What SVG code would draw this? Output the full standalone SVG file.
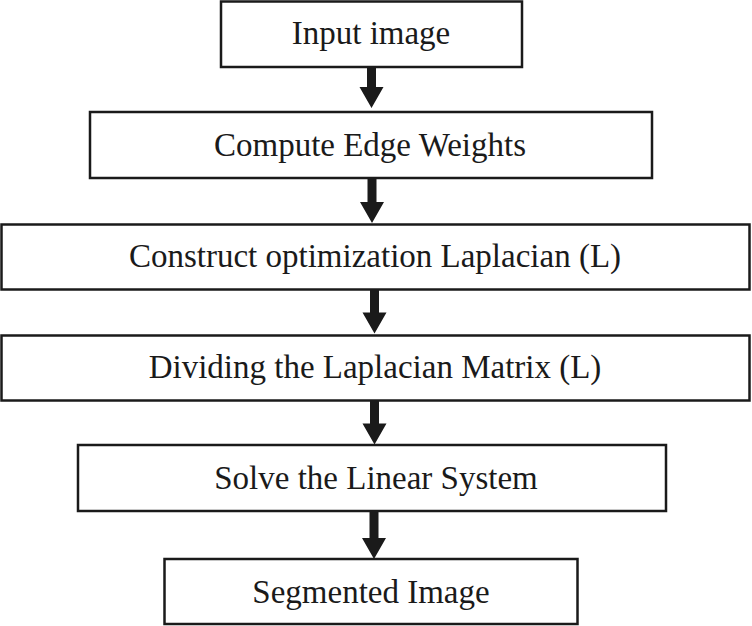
<svg xmlns="http://www.w3.org/2000/svg" width="752" height="626" viewBox="0 0 752 626">
<style>
.b{fill:#fff;stroke:#1a1a1a;stroke-width:2.5}
.t{font-family:"Liberation Serif","Times New Roman",serif;font-size:33px;fill:#1a1a1a;text-anchor:middle}
.a{fill:#1a1a1a}
</style>
<rect width="752" height="626" fill="#fff"/>
<g id="n1"><rect class="b" x="221" y="1.5" width="301" height="65.5"/><text class="t" x="371" y="44">Input image</text></g>
<g id="n2"><rect class="b" x="90" y="112" width="562" height="66"/><text class="t" x="370" y="156">Compute Edge Weights</text></g>
<g id="n3"><rect class="b" x="1.5" y="224.5" width="748" height="65"/><text class="t" x="375" y="267">Construct optimization Laplacian (L)</text></g>
<g id="n4"><rect class="b" x="1.5" y="335.5" width="748" height="65"/><text class="t" x="375" y="378">Dividing the Laplacian Matrix (L)</text></g>
<g id="n5"><rect class="b" x="78" y="445" width="588" height="66"/><text class="t" x="376" y="489">Solve the Linear System</text></g>
<g id="n6"><rect class="b" x="164.5" y="559" width="413" height="65"/><text class="t" x="371" y="603">Segmented Image</text></g>
<g id="connectors">
<path class="a" d="M367 67 h9 v20 h7.5 l-12 21 l-12 -21 h7.5 z"/>
<path class="a" d="M367.5 178 h9 v24 h7.5 l-12 21 l-12 -21 h7.5 z"/>
<path class="a" d="M370 289.5 h9 v23 h7.5 l-12 21 l-12 -21 h7.5 z"/>
<path class="a" d="M370 400.5 h9 v23 h7.5 l-12 21 l-12 -21 h7.5 z"/>
<path class="a" d="M369.5 511 h9 v27 h7.5 l-12 21 l-12 -21 h7.5 z"/>
</g>
</svg>
